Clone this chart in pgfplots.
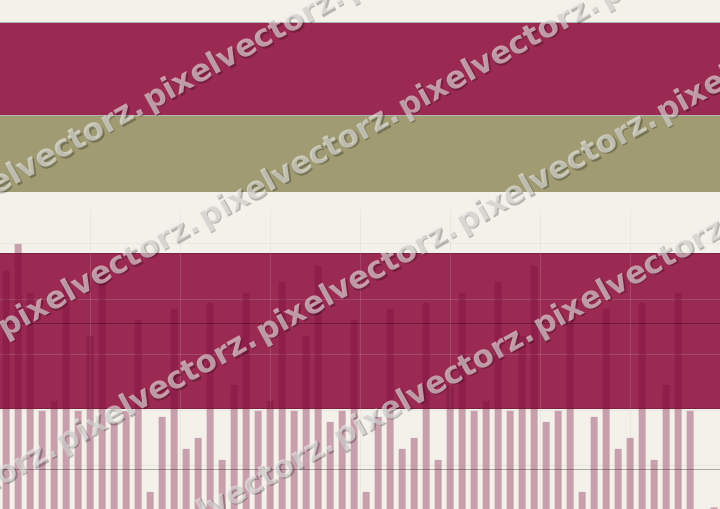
\documentclass[border=0pt]{standalone}
\usepackage{pgfplots}
\pgfplotsset{compat=1.18}
\usepackage{fontspec}
\newfontfamily\wmfont{DejaVu Sans}

\definecolor{cream}{HTML}{F4F1EA}
\definecolor{crimson}{HTML}{9B2A53}
\definecolor{olive}{HTML}{A09B73}
\definecolor{barcol}{HTML}{77083A}
\definecolor{gridc}{HTML}{C8C3B9}

\begin{document}
\begin{tikzpicture}[x=1bp,y=1bp]
\fill[cream] (0,0) rectangle (720,509);
\begin{axis}[
  at={(0,0)}, anchor=south west,
  scale only axis, width=720bp, height=509bp,
  xmin=0, xmax=720, ymin=0, ymax=509,
  axis line style={draw=none},
  ticks=none,
  gridline/.style={draw=gridc, opacity=0.2, line width=0.8bp},
]
% lower band, under the grid
\addplot[fill=crimson, draw=crimson!80!black, line width=0.7bp]
  coordinates {(-5,255.5) (725,255.5) (725,100.7) (-5,100.7)} --cycle;

% grid
\pgfplotsinvokeforeach{43.5,99,154.5,210,265.5}{
  \addplot[gridline] coordinates {(0,#1) (720,#1)};
}
\pgfplotsinvokeforeach{90,180,270,360,450,540,630}{
  \addplot[gridline] coordinates {(#1,0) (#1,299)};
}

% bars
\addplot[ybar, bar width=7, fill=barcol, fill opacity=0.35, draw=none] coordinates {
 (6,238) (18,265) (30,216) (42,98) (54,108) (66,227) (78,98) (90,173) (102,243) (114,87)
 (126,98) (138,189) (150,17) (162,92) (174,200) (186,60) (198,71) (210,206) (222,49) (234,124)
 (246,216) (258,98) (270,108) (282,227) (294,98) (306,173) (318,243) (330,87) (342,98) (354,189)
 (366,17) (378,92) (390,200) (402,60) (414,71) (426,206) (438,49) (450,124) (462,216) (474,98)
 (486,108) (498,227) (510,98) (522,173) (534,243) (546,87) (558,98) (570,189) (582,17) (594,92)
 (606,200) (618,60) (630,71) (642,206) (654,49) (666,124) (678,216) (690,98) (714,1.5)
};

% reference lines
\addplot[black, opacity=0.3, line width=1bp] coordinates {(0,185.7) (720,185.7)};
\addplot[black, opacity=0.3, line width=1bp] coordinates {(0,39) (720,39)};

% upper bands
\addplot[fill=crimson, draw=black!30, line width=0.5bp] coordinates {(-5,486.5) (725,486.5) (725,393.5) (-5,393.5)} --cycle;
\addplot[fill=olive, draw=none] coordinates {(-5,393.3) (725,393.3) (725,316.5) (-5,316.5)} --cycle;
\end{axis}

% watermark
\begin{scope}
\clip (0,0) rectangle (720,509);
\foreach \c/\ph in {187/150, 334/205, 481/263, 628/340} {
  \foreach \n in {-3,...,3} {
    \pgfmathsetmacro\xx{\ph+200*\n}
    \pgfmathsetmacro\yy{509-(\c-0.55*\xx)-7}
    \node[anchor=base west, rotate=29, inner sep=0pt, text=black, text opacity=0.25,
          font=\wmfont\bfseries\fontsize{31}{31}\selectfont] at (\xx+1.5,\yy-1.5) {pixelvectorz.};
    \node[anchor=base west, rotate=29, inner sep=0pt, text=gridc!30!white, text opacity=0.6,
          font=\wmfont\bfseries\fontsize{31}{31}\selectfont] at (\xx,\yy) {pixelvectorz.};
  }
}
\end{scope}
\pgfresetboundingbox
\useasboundingbox (0,0) rectangle (720,509);
\end{tikzpicture}
\end{document}
